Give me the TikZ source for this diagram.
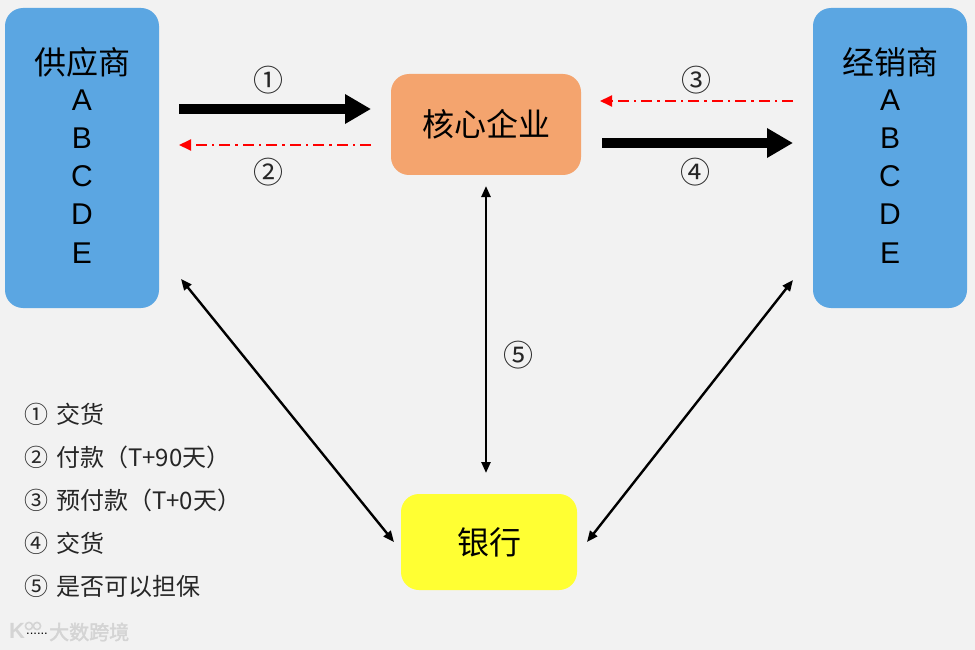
\documentclass[tikz,border=0pt]{standalone}
\usepackage{fontspec}
\setmainfont{Liberation Sans}
\newfontfamily\cjk{Noto Sans CJK SC}
\newfontfamily\cjkfat[FakeBold=2]{Noto Sans CJK SC}
\usetikzlibrary{arrows.meta}
\definecolor{bgc}{HTML}{F2F2F2}
\definecolor{bluebox}{HTML}{5BA6E2}
\definecolor{orangebox}{HTML}{F4A46E}
\definecolor{yellowbox}{HTML}{FFFF33}
\definecolor{legendc}{HTML}{262626}
\definecolor{markc}{HTML}{D4D4D4}
\tikzset{
  x=1pt,y=-1pt,
  box/.style={rounded corners=18pt,inner sep=0pt,draw=none,text=black,align=center},
  bigtxt/.style={font=\fontsize{32}{32}\selectfont\cjk},
  fat/.style={line width=10pt,-{Triangle[length=26pt,width=28pt]}},
  thinred/.style={red,line width=1.9pt,dash pattern=on 11pt off 5pt on 2.5pt off 5pt,-{Triangle[length=12pt,width=11pt]}},
  both/.style={line width=2.4pt,{Triangle[length=11pt,width=9pt]}-{Triangle[length=11pt,width=9pt]}},
  num/.style={font=\fontsize{30}{30}\selectfont\cjk,text=legendc,inner sep=0pt},
  legend/.style={font=\fontsize{24}{24}\selectfont\cjk,text=legendc,anchor=west,inner sep=0pt},
  letter/.style={font=\fontsize{30}{30}\selectfont,inner sep=0pt,anchor=center},
  mark text/.style={font=\fontsize{20}{21}\selectfont\cjkfat,text=markc,inner sep=0pt,anchor=west},
}
\begin{document}
\begin{tikzpicture}
\useasboundingbox (0,0) rectangle (975,650);
\fill[bgc] (0,0) rectangle (975,650);
% boxes
\node[box,fill=bluebox,minimum width=154pt,minimum height=300pt] (sup) at (82,158) {};
\node[box,fill=bluebox,minimum width=154pt,minimum height=300pt] (dis) at (890,158) {};
\node[box,fill=orangebox,minimum width=190pt,minimum height=101pt] (core) at (486,124.5) {\fontsize{32}{32}\selectfont\cjk 核心企业};
\node[box,fill=yellowbox,minimum width=176pt,minimum height=96pt] (bank) at (489,542) {\fontsize{32}{32}\selectfont\cjk 银行};
% box text
\node[bigtxt,inner sep=0pt] (supt) at (82.5,62) {供应商};
\node[letter] (supa) at (82,100) {A};
\node[letter] (supb) at (82,138) {B};
\node[letter] (supc) at (82,176) {C};
\node[letter] (supd) at (82,214) {D};
\node[letter] (supe) at (82,253) {E};
\node[bigtxt,inner sep=0pt] (dist) at (890,62) {经销商};
\node[letter] (disa) at (890,100) {A};
\node[letter] (disb) at (890,138) {B};
\node[letter] (disc) at (890,176) {C};
\node[letter] (disd) at (890,214) {D};
\node[letter] (dise) at (890,253) {E};
% connector ends
\coordinate (a1s) at (179,109); \coordinate (a1e) at (371,109);
\coordinate (a2s) at (371,145); \coordinate (a2e) at (179,145);
\coordinate (a3s) at (793,101); \coordinate (a3e) at (600,101);
\coordinate (a4s) at (602,143); \coordinate (a4e) at (793,143);
\coordinate (c5a) at (486,186); \coordinate (c5b) at (486,473);
\coordinate (dla) at (181,279); \coordinate (dlb) at (394,542);
\coordinate (dra) at (793,280); \coordinate (drb) at (587,542);
\draw[fat] (a1s) -- (a1e);
\draw[thinred] (a2s) -- (a2e);
\draw[thinred] (a3s) -- (a3e);
\draw[fat] (a4s) -- (a4e);
\draw[both] (c5a) -- (c5b);
\draw[both] (dla) -- (dlb);
\draw[both] (dra) -- (drb);
% numbers
\node[num] (n1) at (268,80) {①};
\node[num] (n2) at (268,172) {②};
\node[num] (n3) at (696,80) {③};
\node[num] (n4) at (695,172) {④};
\node[num] (n5) at (518,355) {⑤};
% legend
\node[legend] (l1) at (24,414) {①\hspace{8pt}交货};
\node[legend] (l2) at (24,457) {②\hspace{8pt}付款（T+90天）};
\node[legend] (l3) at (24,500) {③\hspace{8pt}预付款（T+0天）};
\node[legend] (l4) at (24,543) {④\hspace{8pt}交货};
\node[legend] (l5) at (24,586) {⑤\hspace{8pt}是否可以担保};
% watermark
\node[mark text] (wm) at (49,632) {大数跨境};
\node[font=\fontsize{22}{22}\selectfont\bfseries,text=markc,inner sep=0pt] (wk) at (17,631) {K};
\draw[markc,line width=1.6pt] (29,626) circle[radius=3.6pt] (37,626) circle[radius=3.6pt];
\node[font=\fontsize{13}{13}\selectfont,text=black,inner sep=0pt] (wd) at (37,634) {......};
\end{tikzpicture}
\end{document}
